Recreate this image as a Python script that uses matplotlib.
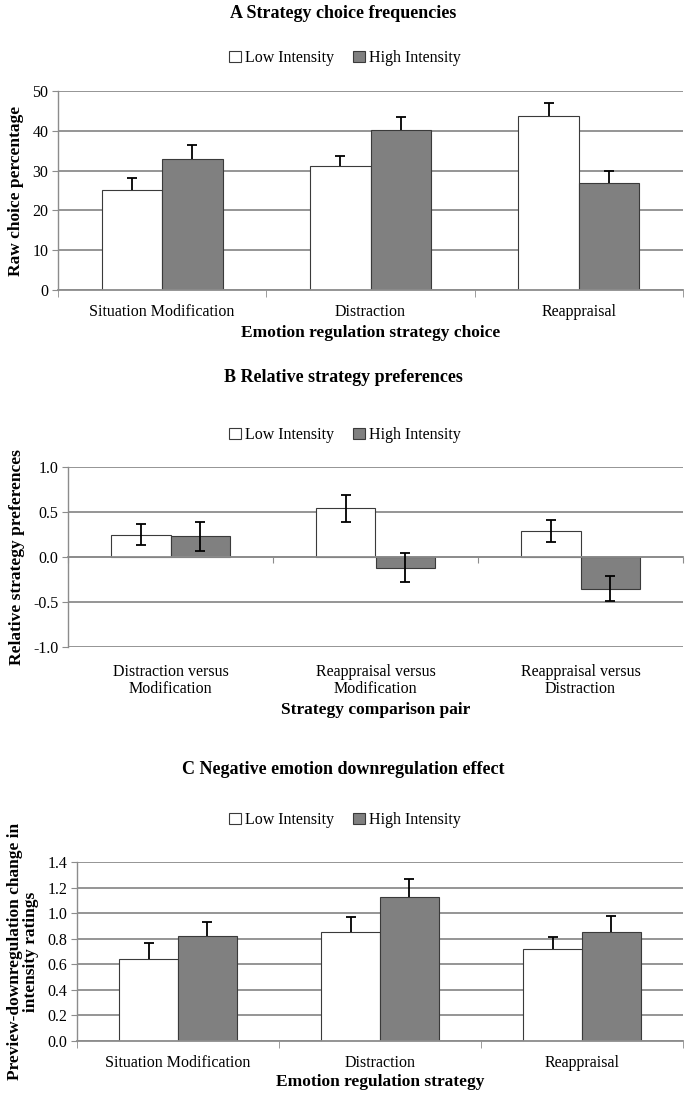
import matplotlib
matplotlib.use("Agg")
import matplotlib.pyplot as plt
import numpy as np
from matplotlib.patches import Patch

plt.rcParams['font.family'] = ['Liberation Serif', 'DejaVu Serif']

# ---- Data ----
cats_a = ["Situation Modification", "Distraction", "Reappraisal"]
low_a = [25.2, 31.2, 43.7]
low_a_err = [2.9, 2.4, 3.2]
high_a = [33.0, 40.2, 26.9]
high_a_err = [3.4, 3.3, 3.0]
yticks_a = [0, 10, 20, 30, 40, 50]

cats_b = ["Distraction versus\nModification", "Reappraisal versus\nModification", "Reappraisal versus\nDistraction"]
low_b = [0.25, 0.54, 0.29]
low_b_err = [0.12, 0.15, 0.12]
high_b = [0.23, -0.12, -0.35]
high_b_err = [0.16, 0.16, 0.14]
yticks_b = [-1.0, -0.5, 0.0, 0.5, 1.0]

cats_c = ["Situation Modification", "Distraction", "Reappraisal"]
low_c = [0.64, 0.85, 0.72]
low_c_err = [0.13, 0.12, 0.09]
high_c = [0.82, 1.13, 0.855]
high_c_err = [0.11, 0.14, 0.12]
yticks_c = [0.0, 0.2, 0.4, 0.6, 0.8, 1.0, 1.2, 1.4]

series_names = ["Low Intensity", "High Intensity"]

W, H = 685, 1099
fig = plt.figure(figsize=(W / 100, H / 100), dpi=100)

LOW_FC = "white"
HIGH_FC = "#808080"
EDGE = "#3a3a3a"
GRID = "#8c8c8c"
BW = 0.29


def px_axes(left, right, top, bottom):
    return fig.add_axes([left / W, (H - bottom) / H, (right - left) / W, (bottom - top) / H])


def err(ax, xs, ys, e, both):
    if both:
        ax.errorbar(xs, ys, yerr=e, fmt="none", ecolor="black", elinewidth=1.3,
                    capsize=3.5, capthick=1.3, zorder=3)
    else:
        _, caps, _ = ax.errorbar(xs, ys, yerr=[np.zeros(len(ys)), e], fmt="none", ecolor="black",
                                 elinewidth=1.3, capsize=3.5, capthick=1.3, zorder=3)
        caps[0].set_visible(False)


def draw_panel(ax, cats, low, low_err, high, high_err, yticks, fmt, both_err, zero_axis):
    x = np.arange(len(cats))
    ax.set_xlim(-0.5, len(cats) - 0.5)
    ax.set_ylim(yticks[0], yticks[-1])
    ax.set_yticks(yticks)
    ax.set_yticklabels([fmt.format(v) for v in yticks], fontsize=11.5)
    ax.set_axisbelow(True)
    ax.yaxis.grid(True, color=GRID, linewidth=1.3)
    ax.bar(x - BW / 2, low, BW, color=LOW_FC, edgecolor=EDGE, linewidth=0.8, zorder=2)
    ax.bar(x + BW / 2, high, BW, color=HIGH_FC, edgecolor=EDGE, linewidth=0.8, zorder=2)
    err(ax, x - BW / 2, low, low_err, both_err)
    err(ax, x + BW / 2, high, high_err, both_err)
    for s in ["top", "right"]:
        ax.spines[s].set_visible(False)
    ax.spines["left"].set_color(GRID)
    ax.spines["left"].set_linewidth(1.0)
    ax.tick_params(axis="y", length=4, color=GRID, pad=3)
    bounds = np.arange(len(cats) + 1) - 0.5
    if zero_axis:
        ax.spines["bottom"].set_position(("data", 0))
        ax.spines["bottom"].set_color(GRID)
        ax.spines["bottom"].set_linewidth(1.3)
        ax.set_xticks(bounds)
        ax.set_xticklabels([])
        ax.tick_params(axis="x", length=4, color=GRID)
        sec = ax.secondary_xaxis(0)
        sec.set_xticks(x)
        sec.set_xticklabels(cats, fontsize=11.5, linespacing=1.15)
        sec.tick_params(length=0, pad=12)
        sec.spines["bottom"].set_visible(False)
        return sec
    ax.spines["bottom"].set_color(GRID)
    ax.spines["bottom"].set_linewidth(1.3)
    ax.set_xticks(bounds, minor=True)
    ax.set_xticks(x)
    ax.set_xticklabels(cats, fontsize=11.5)
    ax.tick_params(axis="x", which="major", length=0, pad=10)
    ax.tick_params(axis="x", which="minor", length=5, color=GRID)
    return ax


def legend_at(ypx):
    handles = [Patch(facecolor=LOW_FC, edgecolor=EDGE, linewidth=0.8),
               Patch(facecolor=HIGH_FC, edgecolor=EDGE, linewidth=0.8)]
    fig.legend(handles, series_names, loc="center", bbox_to_anchor=(0.503, 1 - ypx / H),
               ncol=2, frameon=False, fontsize=11.5, handlelength=0.75, handleheight=0.75,
               handletextpad=0.25, columnspacing=1.2)


TITLE_KW = dict(ha="center", va="center", fontsize=13, fontweight="bold")
LABEL_KW = dict(fontsize=12.5, fontweight="bold")

# Panel A
fig.text(0.501, 1 - 14 / H, "A Strategy choice frequencies", **TITLE_KW)
legend_at(58)
axA = px_axes(58, 683, 91, 290)
xa = draw_panel(axA, cats_a, low_a, low_a_err, high_a, high_a_err, yticks_a, "{:.0f}", False, False)
xa.set_xlabel("Emotion regulation strategy choice", labelpad=4, **LABEL_KW)
axA.set_ylabel("Raw choice percentage", labelpad=6, **LABEL_KW)

# Panel B
fig.text(0.501, 1 - 377 / H, "B Relative strategy preferences", **TITLE_KW)
legend_at(435)
axB = px_axes(68, 683, 467, 647)
xb = draw_panel(axB, cats_b, low_b, low_b_err, high_b, high_b_err, yticks_b, "{:.1f}", True, True)
xb.set_xlabel("Strategy comparison pair", labelpad=3, **LABEL_KW)
axB.set_ylabel("Relative strategy preferences", labelpad=6, **LABEL_KW)

# Panel C
fig.text(0.501, 1 - 770 / H, "C Negative emotion downregulation effect", **TITLE_KW)
legend_at(820)
axC = px_axes(77, 683, 862, 1041)
xc = draw_panel(axC, cats_c, low_c, low_c_err, high_c, high_c_err, yticks_c, "{:.1f}", False, False)
xc.set_xlabel("Emotion regulation strategy", labelpad=2, **LABEL_KW)
axC.set_ylabel("Preview-downregulation change in\nintensity ratings", labelpad=6,
               linespacing=1.0, **LABEL_KW)

fig.savefig("out.png", dpi=100)
